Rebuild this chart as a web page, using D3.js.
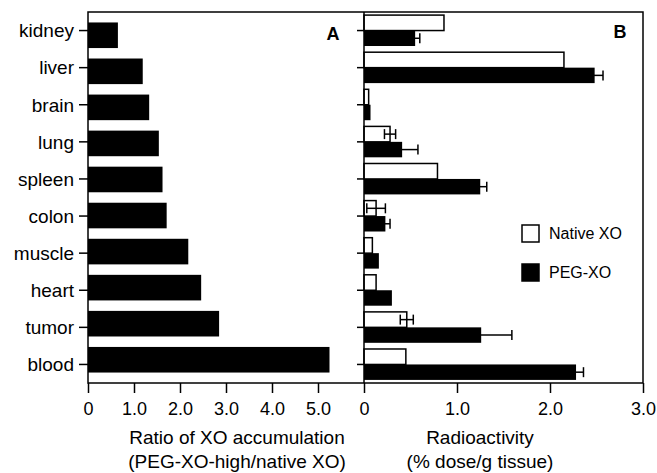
<!DOCTYPE html>
<html>
<head>
<meta charset="utf-8">
<script src="https://cdn.jsdelivr.net/npm/d3@7"></script>
<style>
  body { margin: 0; background: #fff; }
  text { font-family: "Liberation Sans", Arial, Helvetica, sans-serif; fill: #000; }
</style>
</head>
<body>
<div id="chart"></div>
<script>
const categories = ["kidney", "liver", "brain", "lung", "spleen", "colon", "muscle", "heart", "tumor", "blood"];
// panel A: ratio PEG-XO-high / native XO
const ratio = [0.65, 1.19, 1.33, 1.54, 1.62, 1.71, 2.18, 2.46, 2.85, 5.25];
// panel B: % dose/g tissue
const nativeXO = [0.86, 2.15, 0.05, 0.28, 0.79, 0.13, 0.09, 0.13, 0.46, 0.45];
const nativeErr = [0, 0, 0, 0.06, 0, 0.1, 0, 0, 0.07, 0];
const pegXO = [0.55, 2.48, 0.07, 0.41, 1.25, 0.23, 0.16, 0.30, 1.26, 2.28];
const pegErr = [0.05, 0.09, 0, 0.17, 0.07, 0.05, 0, 0, 0.33, 0.08];
const ticksA = [0, 1, 2, 3, 4, 5];
const ticksB = [0, 1, 2, 3];
const series = ["Native XO", "PEG-XO"];

const width = 657, height = 473;
const plotTop = 12, plotBottom = 383;
const leftA = 88, mid = 364, rightB = 643;

const svg = d3.select("#chart").append("svg")
    .attr("width", width)
    .attr("height", height);

svg.append("rect").attr("width", width).attr("height", height).attr("fill", "#fff");

const y = d3.scaleBand()
    .domain(categories)
    .range([plotTop, plotBottom]);

const xA = d3.scaleLinear().domain([0, 6]).range([leftA, mid]);
const xB = d3.scaleLinear().domain([0, 3]).range([mid, rightB]);

// sub band for the two series in panel B
const ySub = d3.scaleBand()
    .domain(series)
    .range([0, y.bandwidth()])
    .paddingOuter(0.2);

// ---- panel A bars
const barA = d3.scaleBand().domain(categories).range([plotTop, plotBottom]).padding(0.29);
svg.append("g").selectAll("rect")
    .data(categories)
    .join("rect")
    .attr("x", xA(0))
    .attr("y", d => barA(d))
    .attr("width", (d, i) => xA(ratio[i]) - xA(0))
    .attr("height", barA.bandwidth())
    .attr("fill", "#000");

// ---- panel B bars
const gB = svg.append("g");
gB.selectAll("rect.native")
    .data(categories)
    .join("rect")
    .attr("class", "native")
    .attr("x", xB(0))
    .attr("y", d => y(d) + ySub("Native XO"))
    .attr("width", (d, i) => xB(nativeXO[i]) - xB(0))
    .attr("height", ySub.bandwidth())
    .attr("fill", "#fff")
    .attr("stroke", "#000")
    .attr("stroke-width", 1.5);

gB.selectAll("rect.peg")
    .data(categories)
    .join("rect")
    .attr("class", "peg")
    .attr("x", xB(0))
    .attr("y", d => y(d) + ySub("PEG-XO"))
    .attr("width", (d, i) => xB(pegXO[i]) - xB(0))
    .attr("height", ySub.bandwidth())
    .attr("fill", "#000");

// error bars
function errorBars(vals, errs, key) {
  const capH = 10;
  categories.forEach((c, i) => {
    if (!errs[i]) return;
    const cy = y(c) + ySub(key) + ySub.bandwidth() / 2;
    const x1 = xB(vals[i] - errs[i]), x2 = xB(vals[i] + errs[i]);
    const g = gB.append("g").attr("stroke", "#000").attr("stroke-width", 1.5);
    g.append("line").attr("x1", x1).attr("x2", x2).attr("y1", cy).attr("y2", cy);
    [x1, x2].forEach(x => {
      g.append("line").attr("x1", x).attr("x2", x).attr("y1", cy - capH / 2).attr("y2", cy + capH / 2);
    });
  });
}
errorBars(nativeXO, nativeErr, "Native XO");
errorBars(pegXO, pegErr, "PEG-XO");

// ---- frames
svg.append("rect")
    .attr("x", leftA).attr("y", plotTop)
    .attr("width", rightB - leftA).attr("height", plotBottom - plotTop)
    .attr("fill", "none").attr("stroke", "#000").attr("stroke-width", 1.5);
svg.append("line")
    .attr("x1", mid).attr("x2", mid).attr("y1", plotTop).attr("y2", plotBottom)
    .attr("stroke", "#000").attr("stroke-width", 1.5);

// ---- y axes
const yAxisA = svg.append("g")
    .attr("transform", `translate(${leftA},0)`)
    .call(d3.axisLeft(y).tickSize(9).tickPadding(5));
yAxisA.select(".domain").remove();
yAxisA.selectAll("line").attr("stroke-width", 1.5);
yAxisA.selectAll("text").style("font-size", "19px").attr("dy", "0.36em");

const yAxisB = svg.append("g")
    .attr("transform", `translate(${mid},0)`)
    .call(d3.axisLeft(y).tickSize(7).tickFormat(""));
yAxisB.select(".domain").remove();
yAxisB.selectAll("line").attr("stroke-width", 1.5);

// ---- x axes
const fmt = d => d === 0 ? "0" : d3.format(".1f")(d);
const xAxisA = svg.append("g")
    .attr("transform", `translate(0,${plotBottom})`)
    .call(d3.axisBottom(xA).tickValues(ticksA).tickFormat(fmt).tickSize(10).tickPadding(9));
xAxisA.select(".domain").remove();
xAxisA.selectAll("line").attr("stroke-width", 1.5);
xAxisA.selectAll("text").style("font-size", "18px");

const xAxisB = svg.append("g")
    .attr("transform", `translate(0,${plotBottom})`)
    .call(d3.axisBottom(xB).tickValues(ticksB).tickFormat(fmt).tickSize(10).tickPadding(9));
xAxisB.select(".domain").remove();
xAxisB.selectAll("line").attr("stroke-width", 1.5);
xAxisB.selectAll("text").style("font-size", "18px");

// ---- panel letters
svg.append("text").attr("x", 333).attr("y", 40).attr("text-anchor", "middle")
    .style("font-size", "18px").style("font-weight", "bold").text("A");
svg.append("text").attr("x", 620).attr("y", 38).attr("text-anchor", "middle")
    .style("font-size", "18px").style("font-weight", "bold").text("B");

// ---- axis titles
const titles = [
  { x: 237, lines: ["Ratio of XO accumulation", "(PEG-XO-high/native XO)"] },
  { x: 480, lines: ["Radioactivity", "(% dose/g tissue)"] }
];
titles.forEach(t => {
  t.lines.forEach((s, i) => {
    svg.append("text")
        .attr("x", t.x).attr("y", 444 + i * 24)
        .attr("text-anchor", "middle")
        .style("font-size", "19px")
        .text(s);
  });
});

// ---- legend
const legend = svg.append("g").attr("transform", "translate(522,225)");
series.forEach((s, i) => {
  legend.append("rect")
      .attr("x", 0).attr("y", i * 39)
      .attr("width", 17).attr("height", 17)
      .attr("fill", i === 0 ? "#fff" : "#000")
      .attr("stroke", "#000").attr("stroke-width", 1.5);
  legend.append("text")
      .attr("x", 27).attr("y", i * 39 + 8.5)
      .attr("dy", "0.36em")
      .style("font-size", "16px")
      .text(s);
});
</script>
</body>
</html>
